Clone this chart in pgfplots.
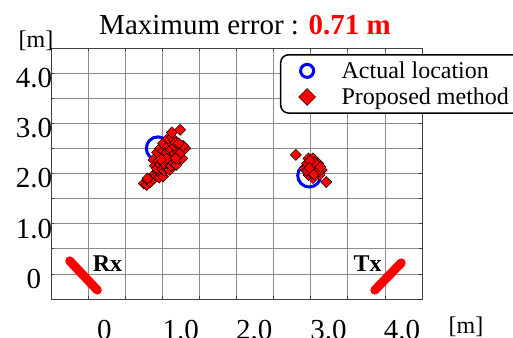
\documentclass[border=0pt]{standalone}
\usepackage{fontspec}
\setmainfont{Liberation Serif}
\usepackage{pgfplots}
\pgfplotsset{compat=1.18}
\begin{document}
\begin{tikzpicture}
\begin{axis}[
 at={(51pt,38pt)}, anchor=south west,
 scale only axis, width=371pt, height=251pt,
 xmin=-0.5,xmax=4.5,ymin=-0.5,ymax=4.5,
 clip=false,
 axis line style={black!75, line width=0.8pt},
 xtick={0.22,1.25,2.24,3.24,4.23},
 xticklabels={0,1.0,2.0,3.0,4.0},
 ytick={0,1,2,3,4},
 yticklabels={0,1.0,2.0,3.0,4.0},
 minor xtick={-0.5,0,...,4.5}, minor ytick={-0.5,0,...,4.5},
 minor grid style={black!45, line width=0.7pt},
 xminorgrids, yminorgrids,
 major tick length=0pt, minor tick length=3pt,
 tick align=inside,
 tick style={black!75, line width=0.7pt},
 ticklabel style={font=\fontsize{29}{29}\selectfont},
 /pgf/number format/assume math mode=true,
 xticklabel style={anchor=center, yshift=-31pt},
 yticklabel style={anchor=center, xshift=-17pt, yshift=-5pt},
 legend style={at={(0.617,0.976)}, anchor=north west, draw=black, line width=1.5pt,
   rounded corners=8pt, font=\fontsize{24}{27}\selectfont, inner xsep=18pt, inner ysep=5pt,
   cells={anchor=west}, row sep=4pt,
   /tikz/every odd column/.append style={column sep=24pt}},
]
\addplot[only marks, mark=o, blue, mark size=11.5pt, line width=3pt,
  legend image post style={mark size=6.5pt, line width=3pt, sharp corners}]
  coordinates {(0.94,2.5) (2.98,1.96)};
\addlegendentry{Actual location}
\addplot[only marks, mark=square*, mark size=3.9pt,
  mark options={rotate=45, fill=red, draw=black, line width=0.5pt, sharp corners},
  legend image post style={mark size=6pt, sharp corners}]
  coordinates {
(0.75,1.80) (0.79,1.77) (0.81,1.86) (0.84,1.83) (0.86,1.93) (0.88,1.89) (0.90,2.00) (0.92,1.95)
(0.94,2.05) (0.96,1.92) (0.99,1.98) (1.01,1.94) (0.80,1.90)
(0.88,2.27) (0.90,2.15) (0.93,2.10) (0.95,2.25) (0.97,2.18) (1.00,2.08) (1.03,2.05) (1.06,2.10)
(1.10,2.07) (1.02,2.20) (1.05,2.28) (0.99,2.35) (0.93,2.42) (0.97,2.50) (1.01,2.45) (1.08,2.20)
(1.12,2.15) (1.15,2.22) (1.19,2.17) (1.14,2.32) (1.10,2.38) (1.06,2.42) (1.04,2.55) (1.01,2.60)
(1.08,2.55) (1.12,2.48) (1.17,2.40) (1.22,2.30) (1.27,2.30) (1.20,2.45) (1.25,2.42) (1.31,2.50)
(1.28,2.55) (1.16,2.55) (1.10,2.65) (1.08,2.70) (1.13,2.72) (1.18,2.62) (1.22,2.60) (1.13,2.82)
(1.24,2.87) (1.06,2.30) (0.98,2.28) (1.18,2.30)
(2.80,2.37) (3.21,1.83) (2.97,2.30) (3.03,2.30) (3.10,2.20) (3.15,2.07) (3.12,1.97) (3.03,1.91)
(2.97,1.97) (2.92,2.10) (2.95,2.20) (3.01,2.14) (3.06,2.04) (3.08,2.12) (3.00,2.03) (2.95,2.05)
(3.05,2.22) (2.99,2.25) (3.10,2.03) (3.13,2.13) (3.04,1.98) (2.98,2.11)
};
\addlegendentry{Proposed method}
\addplot[red, line width=9pt, line cap=round, forget plot] coordinates {(-0.248,0.259) (0.124,-0.323)};
\addplot[red, line width=9pt, line cap=round, forget plot] coordinates {(3.864,-0.323) (4.220,0.219)};
\node[anchor=base, font=\fontsize{24}{24}\selectfont\bfseries] at (axis cs:0.261,0.04) {Rx};
\node[anchor=base, font=\fontsize{24}{24}\selectfont\bfseries] at (axis cs:3.766,0.04) {Tx};
\end{axis}
\node[anchor=base, font=\fontsize{29}{29}\selectfont] at (245pt,302pt) {Maximum error : \textbf{\color{red}0.71 m}};
\node[font=\fontsize{24}{24}\selectfont] at (36pt,296pt) {[m]};
\node[font=\fontsize{24}{24}\selectfont] at (466pt,10pt) {[m]};
\pgfresetboundingbox
\useasboundingbox (0,0) rectangle (513pt,337pt);
\end{tikzpicture}
\end{document}
